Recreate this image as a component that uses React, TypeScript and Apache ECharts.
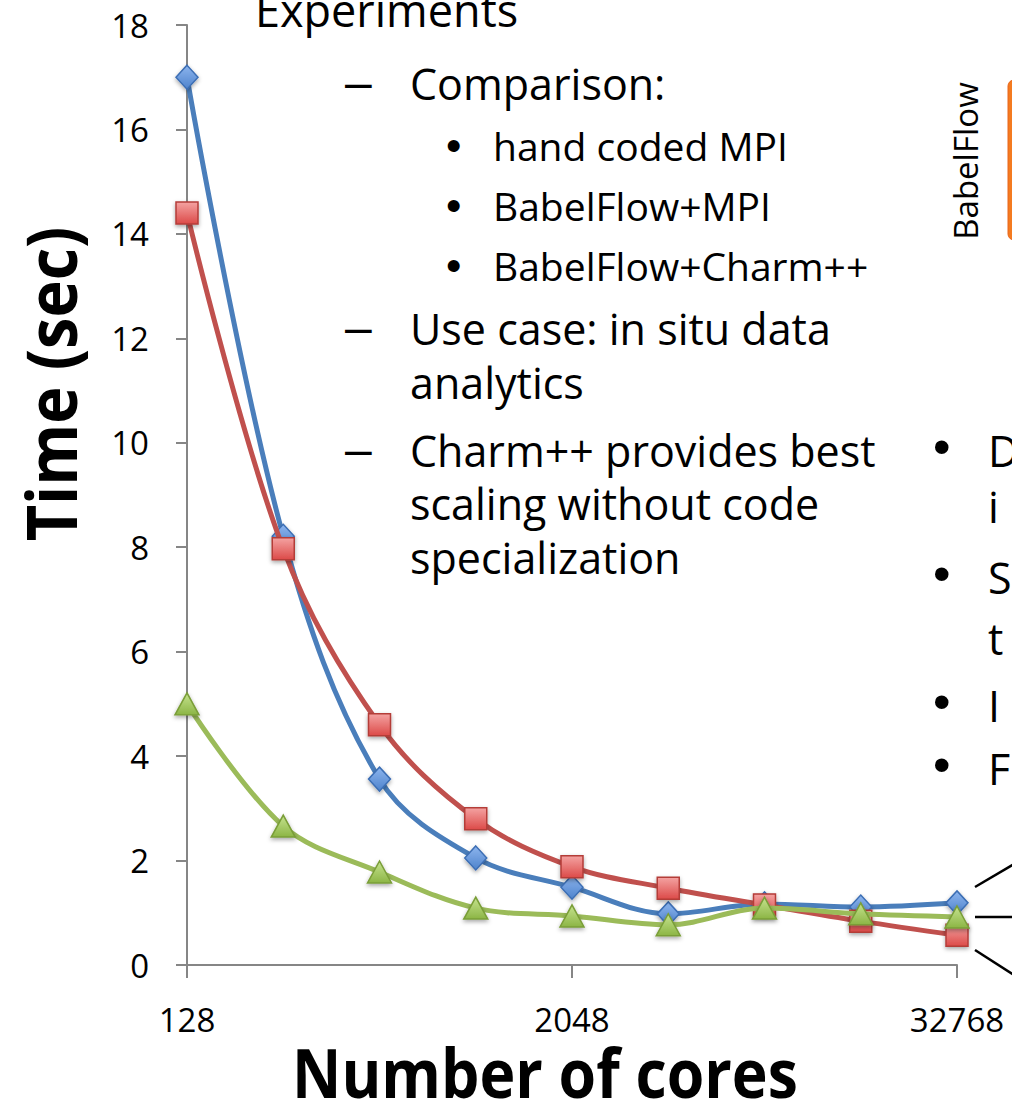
import React, { useEffect, useRef } from "react";
import * as echarts from "echarts";

const cores = ["128", "256", "512", "1024", "2048", "4096", "8192", "16384", "32768"];
const handCodedMPI = [17.0, 8.21, 3.56, 2.05, 1.49, 0.98, 1.17, 1.11, 1.19];
const babelFlowMPI = [14.4, 7.97, 4.6, 2.8, 1.88, 1.47, 1.15, 0.84, 0.57];
const babelFlowCharm = [5.0, 2.66, 1.78, 1.09, 0.94, 0.77, 1.09, 0.98, 0.92];
const yTicks = { min: 0, max: 18, interval: 2 };

const FONT = "'Open Sans', Lato, sans-serif";
const MARK_FONT = "'Liberation Sans', Arial, sans-serif";

function grad(top: string, bottom: string) {
  return new echarts.graphic.LinearGradient(0, 0, 0, 1, [
    { offset: 0, color: top },
    { offset: 1, color: bottom },
  ]);
}

export default function App() {
  const ref = useRef<HTMLDivElement>(null);
  useEffect(() => {
    if (!ref.current) return;
    const chart = echarts.init(ref.current, undefined, { renderer: "svg" });
    const txt = (text: string, x: number, y: number, size: number, font: string = FONT) => ({
      type: "text",
      x,
      y,
      style: {
        text,
        font: `${size}px ${font}`,
        fill: "#000",
        textVerticalAlign: "middle",
      },
    });
    const mainSize = 43;
    const subSize = 39;
    const dash = (y: number) => txt("–", 345, y, 48, MARK_FONT);
    const bullet = (x: number, y: number, s: number) => txt("•", x, y, s, MARK_FONT);
    const graphics: any[] = [
      txt("Experiments", 255, 9, 45),
      dash(82),
      txt("Comparison:", 410, 83, mainSize),
      bullet(446, 145, 44),
      txt("hand coded MPI", 493, 145, subSize),
      bullet(446, 205, 44),
      txt("BabelFlow+MPI", 493, 205, subSize),
      bullet(446, 265, 44),
      txt("BabelFlow+Charm++", 493, 265, subSize),
      dash(327),
      txt("Use case: in situ data", 410, 328, mainSize),
      txt("analytics", 410, 382, mainSize),
      dash(449),
      txt("Charm++ provides best", 410, 450, mainSize),
      txt("scaling without code", 410, 503, mainSize),
      txt("specialization", 410, 557, mainSize),
      bullet(933, 447, 50),
      txt("D", 988, 450, mainSize),
      txt("i", 988, 506, mainSize),
      bullet(933, 574, 50),
      txt("S", 988, 577, mainSize),
      txt("t", 988, 638, mainSize),
      bullet(933, 702, 50),
      txt("I", 988, 705, mainSize),
      bullet(933, 765, 50),
      txt("F", 988, 768, mainSize),
      {
        type: "text",
        x: 965,
        y: 161,
        rotation: Math.PI / 2,
        style: {
          text: "BabelFlow",
          font: `33px ${FONT}`,
          fill: "#000",
          textAlign: "center",
          textVerticalAlign: "middle",
        },
      },
      {
        type: "text",
        x: 545,
        y: 1071,
        scaleX: 0.88,
        style: {
          text: "Number of cores",
          font: `bold 69px ${FONT}`,
          fill: "#000",
          textAlign: "center",
          textVerticalAlign: "middle",
        },
      },
      {
        type: "text",
        x: 50,
        y: 384,
        rotation: Math.PI / 2,
        scaleX: 0.9,
        style: {
          text: "Time (sec)",
          font: `bold 70px ${FONT}`,
          fill: "#000",
          textAlign: "center",
          textVerticalAlign: "middle",
        },
      },
      {
        type: "rect",
        shape: { x: 1008, y: 80, width: 40, height: 160, r: 6 },
        style: { fill: "#f47b20", stroke: "#e8651a", lineWidth: 1 },
      },
      {
        type: "line",
        shape: { x1: 975, y1: 887, x2: 1014, y2: 864 },
        style: { stroke: "#000", lineWidth: 2.5 },
      },
      {
        type: "line",
        shape: { x1: 975, y1: 917, x2: 1014, y2: 917 },
        style: { stroke: "#000", lineWidth: 2.5 },
      },
      {
        type: "line",
        shape: { x1: 975, y1: 950, x2: 1014, y2: 975 },
        style: { stroke: "#000", lineWidth: 2.5 },
      },
    ];

    const markerShadow = {
      shadowBlur: 4,
      shadowColor: "rgba(0,0,0,0.35)",
      shadowOffsetY: 2,
    };

    chart.setOption({
      animation: false,
      grid: { left: 187, right: 55, top: 25, bottom: 143, containLabel: false },
      xAxis: {
        type: "category",
        data: cores,
        boundaryGap: false,
        axisLine: { lineStyle: { color: "#868686", width: 2 } },
        axisTick: {
          show: true,
          length: 13,
          interval: (i: number) => i % 4 === 0,
          lineStyle: { color: "#868686", width: 2 },
        },
        axisLabel: {
          interval: (i: number) => i % 4 === 0,
          fontFamily: FONT,
          fontSize: 33,
          color: "#000",
          margin: 38,
        },
        splitLine: { show: false },
      },
      yAxis: {
        type: "value",
        min: yTicks.min,
        max: yTicks.max,
        interval: yTicks.interval,
        axisLine: { show: true, lineStyle: { color: "#868686", width: 2 } },
        axisTick: { show: true, length: 11, lineStyle: { color: "#868686", width: 2 } },
        axisLabel: { fontFamily: FONT, fontSize: 33, color: "#000", margin: 38 },
        splitLine: { show: false },
      },
      series: [
        {
          name: "hand coded MPI",
          type: "line",
          data: handCodedMPI,
          smooth: 0.35,
          symbol: "diamond",
          symbolSize: [22, 24],
          lineStyle: { color: "#4a7ebb", width: 5 },
          itemStyle: {
            color: grad("#8db5ee", "#4e83cc"),
            borderColor: "#3c6eb4",
            borderWidth: 1.5,
            ...markerShadow,
          },
          z: 2,
        },
        {
          name: "BabelFlow+MPI",
          type: "line",
          data: babelFlowMPI,
          smooth: 0.35,
          symbol: "rect",
          symbolSize: 22,
          lineStyle: { color: "#c0504d", width: 5 },
          itemStyle: {
            color: grad("#f4a3a2", "#dc4a48"),
            borderColor: "#b43c39",
            borderWidth: 1.5,
            ...markerShadow,
          },
          z: 3,
        },
        {
          name: "BabelFlow+Charm++",
          type: "line",
          data: babelFlowCharm,
          smooth: 0.35,
          symbol: "triangle",
          symbolSize: [24, 22],
          lineStyle: { color: "#9bbb59", width: 5 },
          itemStyle: {
            color: grad("#c6e38f", "#8cb545"),
            borderColor: "#7a9e38",
            borderWidth: 1.5,
            ...markerShadow,
          },
          z: 4,
        },
      ],
      graphic: graphics,
    });
    return () => chart.dispose();
  }, []);
  return (
    <div
      ref={ref}
      style={{ position: "absolute", left: 0, top: 0, width: 1012, height: 1108 }}
    />
  );
}
